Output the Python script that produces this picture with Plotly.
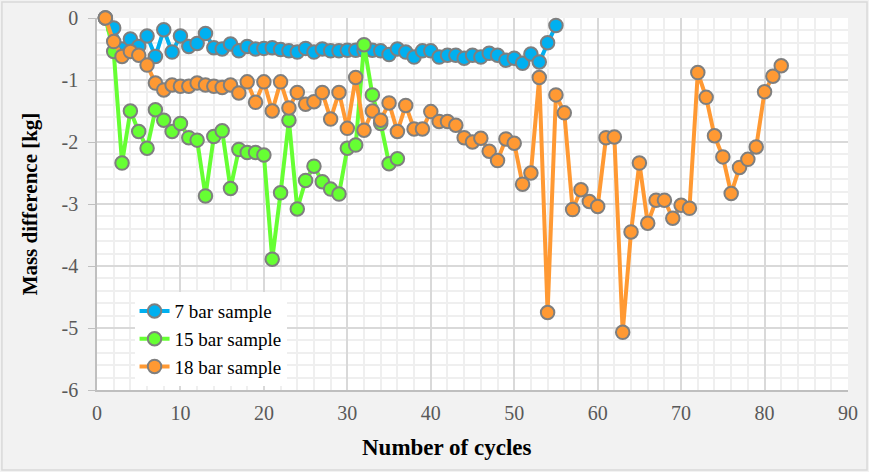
import plotly.graph_objects as go

cycles_7 = list(range(1, 56))
mass_7 = [0, -0.16, -0.5, -0.34, -0.46, -0.29, -0.62, -0.19, -0.55, -0.29,
          -0.46, -0.41, -0.25, -0.48, -0.5, -0.42, -0.53, -0.46, -0.5, -0.49,
          -0.48, -0.51, -0.53, -0.55, -0.49, -0.55, -0.5, -0.53, -0.53, -0.52,
          -0.52, -0.52, -0.52, -0.53, -0.59, -0.5, -0.55, -0.63, -0.53, -0.53,
          -0.63, -0.6, -0.6, -0.65, -0.6, -0.63, -0.57, -0.6, -0.68, -0.65,
          -0.73, -0.58, -0.71, -0.4, -0.12]

cycles_15 = list(range(1, 37))
mass_15 = [0, -0.54, -2.34, -1.5, -1.83, -2.1, -1.48, -1.65, -1.83, -1.7,
           -1.93, -1.97, -2.87, -1.91, -1.82, -2.75, -2.12, -2.17, -2.17, -2.21,
           -3.89, -2.82, -1.65, -3.08, -2.62, -2.39, -2.64, -2.76, -2.84, -2.1,
           -2.05, -0.43, -1.24, -1.7, -2.35, -2.27]

cycles_18 = list(range(1, 83))
mass_18 = [0, -0.38, -0.62, -0.54, -0.6, -0.76, -1.05, -1.16, -1.08, -1.1,
           -1.1, -1.05, -1.08, -1.1, -1.12, -1.08, -1.21, -1.03, -1.36, -1.03,
           -1.5, -1.03, -1.45, -1.2, -1.39, -1.35, -1.2, -1.63, -1.2, -1.78,
           -0.96, -1.81, -1.5, -1.65, -1.37, -1.83, -1.41, -1.79, -1.79, -1.51,
           -1.67, -1.67, -1.73, -1.93, -2.0, -1.94, -2.15, -2.3, -1.95, -2.02,
           -2.68, -2.5, -0.96, -4.75, -1.24, -1.53, -3.09, -2.77, -2.96, -3.04,
           -1.93, -1.92, -5.07, -3.45, -2.34, -3.31, -2.94, -2.94, -3.23, -3.02,
           -3.07, -0.88, -1.28, -1.9, -2.24, -2.83, -2.41, -2.28, -2.08, -1.19,
           -0.94, -0.77]

x_ticks = [0, 10, 20, 30, 40, 50, 60, 70, 80, 90]
y_ticks = [0, -1, -2, -3, -4, -5, -6]

series = [
    ("7 bar sample", cycles_7, mass_7, "#00b0f0"),
    ("15 bar sample", cycles_15, mass_15, "#66ff33"),
    ("18 bar sample", cycles_18, mass_18, "#ff9933"),
]

fig = go.Figure()
for name, xs, ys, col in series:
    fig.add_trace(go.Scatter(
        x=xs, y=ys, name=name, mode="lines+markers",
        line=dict(color=col, width=4),
        marker=dict(size=13.5, color=col, line=dict(color="#7f7f7f", width=2)),
        cliponaxis=False,
    ))

serif = "Liberation Serif, Times New Roman, serif"
fig.update_layout(
    width=869, height=472,
    paper_bgcolor="#f2f2f2", plot_bgcolor="white",
    margin=dict(l=97, r=21, t=18, b=82, autoexpand=False),
    font=dict(family=serif, color="#595959", size=20),
    showlegend=True,
    legend=dict(x=0.05, y=0.263, xanchor="left", yanchor="top",
                bgcolor="white", borderwidth=0,
                font=dict(family=serif, size=19, color="black")),
    shapes=[dict(type="rect", xref="paper", yref="paper",
                 x0=-95/750.4, x1=1+19/750.4,
                 y0=-80/372, y1=1+16/372,
                 line=dict(color="#d9d9d9", width=1.5), layer="below")],
    annotations=[dict(text="<b>Number of cycles</b>", xref="paper", yref="paper",
                      x=0.466, y=-57/372, xanchor="center", yanchor="middle",
                      showarrow=False, font=dict(family=serif, size=23, color="black"))],
)
fig.update_xaxes(
    range=[0, 90], tickvals=x_ticks, ticktext=[str(v) for v in x_ticks],
    showgrid=True, gridcolor="#d9d9d9", gridwidth=1.5,
    minor=dict(dtick=2, showgrid=True, gridcolor="#efefef", gridwidth=1.5),
    showline=True, linecolor="#bfbfbf", linewidth=1.5,
    zeroline=False, ticks="outside", ticklen=4, tickcolor="rgba(0,0,0,0)",
)
fig.update_yaxes(
    range=[-6, 0], tickvals=y_ticks, ticktext=[str(v) for v in y_ticks],
    showgrid=True, gridcolor="#d9d9d9", gridwidth=1.5,
    minor=dict(dtick=0.2, showgrid=True, gridcolor="#efefef", gridwidth=1.5),
    showline=True, linecolor="#bfbfbf", linewidth=1.5,
    zeroline=False, ticks="outside", ticklen=7, tickcolor="#bfbfbf",
    ticklabelstandoff=6,
    title=dict(text="<b>Mass difference [kg]</b>", font=dict(family=serif, size=21, color="black"), standoff=18),
)
fig.write_html("out.html", config={"displayModeBar": False},
               post_script="document.body.style.margin='0';")
